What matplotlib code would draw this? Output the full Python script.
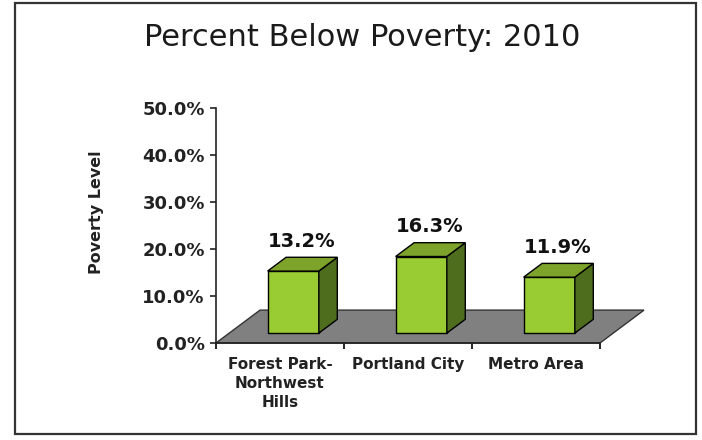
import matplotlib.pyplot as plt
from matplotlib.patches import Polygon, Rectangle

# Poverty rates, 2010
areas = ["Forest Park-\nNorthwest\nHills", "Portland City", "Metro Area"]
poverty_pct = [13.2, 16.3, 11.9]
y_ticks = [0, 10, 20, 30, 40, 50]

# Colours for the 3D look
front_col = "#99cc33"
top_col = "#7ea32b"
side_col = "#4e6d1d"
floor_col = "#808080"

# Depth of the floor in data units, and where the bars sit on it
depth_x, depth_y = 0.344, 7.0
bar_near, bar_far = 0.3, 0.72
bar_w = 0.4

fig = plt.figure(figsize=(7.02, 4.40), dpi=100)
fig.patch.set_facecolor("white")

# Outer frame round the whole chart
fig.patches.append(Rectangle((15 / 702, 1 - 434 / 440), 681 / 702, 431 / 440,
                             transform=fig.transFigure, fill=False,
                             edgecolor="#333333", linewidth=1.6))

ax = fig.add_axes([216 / 702, 1 - 343 / 440, 384 / 702, 235 / 440])
ax.set_xlim(0, 3)
ax.set_ylim(0, 50)
ax.patch.set_alpha(0)

# Floor
n = len(areas)
floor = Polygon([(0, 0), (n, 0), (n + depth_x, depth_y), (depth_x, depth_y)],
                closed=True, facecolor=floor_col, edgecolor="#333333",
                linewidth=1.0, clip_on=False, zorder=1)
ax.add_patch(floor)


def draw_bar(i, value):
    # front face sits bar_near deep into the floor
    x0 = i + 0.5 - bar_w / 2 + bar_near * depth_x
    x1 = x0 + bar_w
    y0 = bar_near * depth_y
    y1 = y0 + value
    ddx = (bar_far - bar_near) * depth_x
    ddy = (bar_far - bar_near) * depth_y
    kw = dict(edgecolor="black", linewidth=1.0, clip_on=False, zorder=3,
              joinstyle="miter")
    ax.add_patch(Polygon([(x0, y0), (x1, y0), (x1, y1), (x0, y1)],
                         facecolor=front_col, **kw))
    ax.add_patch(Polygon([(x1, y0), (x1 + ddx, y0 + ddy), (x1 + ddx, y1 + ddy), (x1, y1)],
                         facecolor=side_col, **kw))
    ax.add_patch(Polygon([(x0, y1), (x1, y1), (x1 + ddx, y1 + ddy), (x0 + ddx, y1 + ddy)],
                         facecolor=top_col, **kw))
    # value label above the middle of the bar top
    cx = i + 0.5 + 0.5 * depth_x
    ax.annotate(f"{value:.1f}%", xy=(cx, value + bar_far * depth_y),
                xytext=(0, 11.5), textcoords="offset points",
                ha="center", va="center", fontsize=14, fontweight="bold",
                color="#111111", zorder=4, annotation_clip=False)


for i, v in enumerate(poverty_pct):
    draw_bar(i, v)

# Axes styling
for s in ["top", "right"]:
    ax.spines[s].set_visible(False)
for s in ["left", "bottom"]:
    ax.spines[s].set_linewidth(1.2)
    ax.spines[s].set_color("#222222")
    ax.spines[s].set_zorder(2)

ax.set_yticks(y_ticks, [f"{t:.1f}%" for t in y_ticks])
ax.tick_params(axis="y", direction="out", length=4, width=1.2, pad=4,
               labelsize=13, colors="#222222")
for lbl in ax.get_yticklabels():
    lbl.set_fontweight("bold")

ax.set_xticks([i + 0.5 for i in range(n)], areas)
ax.set_xticks(range(n + 1), minor=True)
ax.tick_params(axis="x", which="major", length=0, pad=10, labelsize=11,
               colors="#222222")
ax.tick_params(axis="x", which="minor", direction="out", length=4, width=1.2)
for lbl in ax.get_xticklabels():
    lbl.set_fontweight("bold")
    lbl.set_linespacing(1.35)
    lbl.set_verticalalignment("top")

fig.text(97 / 702, 1 - 212 / 440, "Poverty Level", rotation=90,
         ha="center", va="center", fontsize=11.5, fontweight="bold",
         color="#222222")

fig.text(362 / 702, 1 - 37 / 440, "Percent Below Poverty: 2010",
         ha="center", va="center", fontsize=22, color="#1a1a1a")

fig.savefig("out.png", dpi=100)
